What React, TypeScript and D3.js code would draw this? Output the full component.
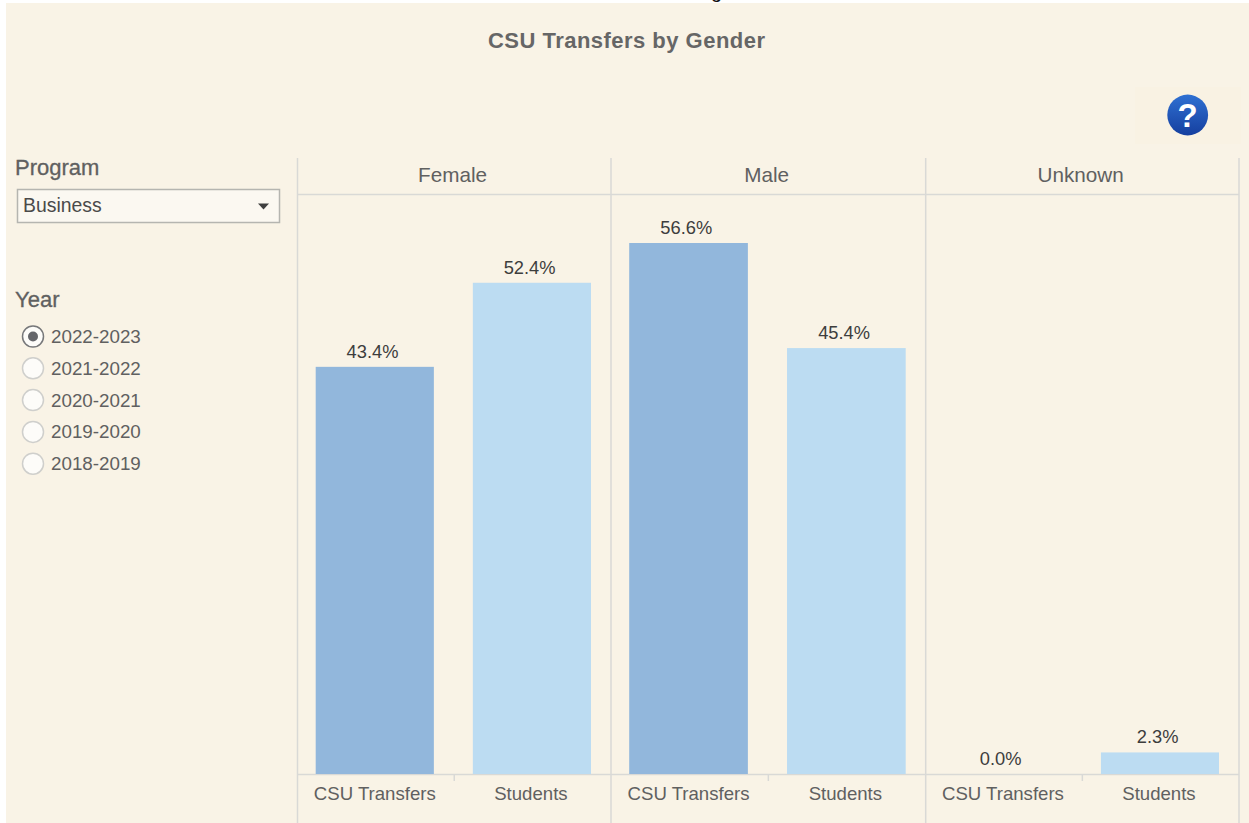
import React from "react";
import * as d3 from "d3";

const genders = ["Female", "Male", "Unknown"];
const measures = ["CSU Transfers", "Students"];
const csuValues = [43.4, 56.6, 0.0];
const studentValues = [52.36, 45.4, 2.3];
const years = ["2022-2023", "2021-2022", "2020-2021", "2019-2020", "2018-2019"];
const selectedYear = "2022-2023";
const program = "Business";
const title = "CSU Transfers by Gender";

const FONT = "'Liberation Sans', Arial, sans-serif";
const BG = "#f9f3e6";
const GRID = "#d9d9d6";
const TEXT = "#606060";
const panelEdges = [297.5, 611, 925.7, 1239];

export default function App() {
  const fx = d3.scaleOrdinal<string, number>().domain(genders).range(panelEdges);
  const y = d3.scaleLinear().domain([0, 56.6]).range([774, 243]);
  const seriesValues = [csuValues, studentValues];
  const colors = ["#92b7dc", "#bcdcf2"];
  return (
    <svg
      width={1249}
      height={823}
      style={{ position: "absolute", left: 0, top: 0, display: "block" }}
      fontFamily={FONT}
    >
      <defs>
        <linearGradient id="help" x1="0" y1="0" x2="0" y2="1">
          <stop offset="0" stopColor="#2f70d2" />
          <stop offset="1" stopColor="#153f9f" />
        </linearGradient>
      </defs>
      <rect x={0} y={0} width={1249} height={823} fill="#ffffff" />
      <text x={711} y={-2} fontSize={20} fill="#111111">g</text>
      <rect x={6} y={3} width={1243} height={820} fill={BG} />
      <text x={488} y={48} fontSize={22} fontWeight={700} fill="#666666" textLength={277} lengthAdjust="spacing">
        {title}
      </text>

      {/* help button */}
      <rect x={1135} y={87} width={106} height={57} fill="#f9f2e3" />
      <circle cx={1187.7} cy={115} r={20.4} fill="url(#help)" />
      <text x={1187.7} y={127} textAnchor="middle" fontSize={33} fontWeight={700} fill="#ffffff">?</text>

      {/* Program filter */}
      <text x={15} y={175} fontSize={22} fill={TEXT} stroke={TEXT} strokeWidth={0.3}>Program</text>
      <rect x={17.5} y={189.5} width={262} height={33} fill="#fbf8f1" stroke="#b5b5b0" strokeWidth={1.5} />
      <text x={23} y={212} fontSize={19.4} fill="#4a4a4a">{program}</text>
      <path d="M258,203.5 L269,203.5 L263.5,209.5 Z" fill="#3f3f3f" />

      {/* Year filter */}
      <text x={15} y={307} fontSize={22} fill={TEXT} stroke={TEXT} strokeWidth={0.3}>Year</text>
      {years.map((yr, i) => {
        const cy = 336.5 + i * 31.8;
        const sel = yr === selectedYear;
        return (
          <g key={yr}>
            <circle cx={33} cy={cy} r={10.5} fill="#fdfcf9" stroke={sel ? "#77787a" : "#cfcfcc"} strokeWidth={1.5} />
            {sel && <circle cx={33} cy={cy} r={5} fill="#65666a" />}
            <text x={51} y={cy + 6.5} fontSize={18.8} fill={TEXT}>{yr}</text>
          </g>
        );
      })}

      {/* panels */}
      {panelEdges.map((x, i) => (
        <line key={i} x1={x} x2={x} y1={158} y2={823} stroke={GRID} strokeWidth={1.5} />
      ))}
      <line x1={298} x2={1239} y1={194.5} y2={194.5} stroke={GRID} strokeWidth={1.5} />
      <line x1={298} x2={1239} y1={774.5} y2={774.5} stroke={GRID} strokeWidth={1.5} />

      {genders.map((g, gi) => {
        const x0 = fx(g) as number;
        const x1 = panelEdges[gi + 1];
        const xb = d3.scaleBand().domain(measures).range([x0 + 18.2, x1 - 20]).paddingInner(0.248);
        const mid = (x0 + x1) / 2;
        return (
          <g key={g}>
            <text x={mid - 1.7} y={182} textAnchor="middle" fontSize={20.7} fill={TEXT}>{g}</text>
            <line x1={mid} x2={mid} y1={774} y2={781} stroke={GRID} strokeWidth={1.5} />
            {measures.map((m, mi) => {
              const v = seriesValues[mi][gi];
              const bx = xb(m) as number;
              const bw = xb.bandwidth();
              return (
                <g key={m}>
                  <rect x={bx} y={y(v)} width={bw} height={y(0) - y(v)} fill={colors[mi]} />
                  <text x={bx + bw / 2 - 2.3} y={y(v) - 9} textAnchor="middle" fontSize={18.3} fill="#3d3d3d">{v.toFixed(1)}%</text>
                  <text x={bx + bw / 2 - (mi === 0 ? 0 : 1)} y={800} textAnchor="middle" fontSize={18.6} fill={TEXT}>{m}</text>
                </g>
              );
            })}
          </g>
        );
      })}
    </svg>
  );
}
